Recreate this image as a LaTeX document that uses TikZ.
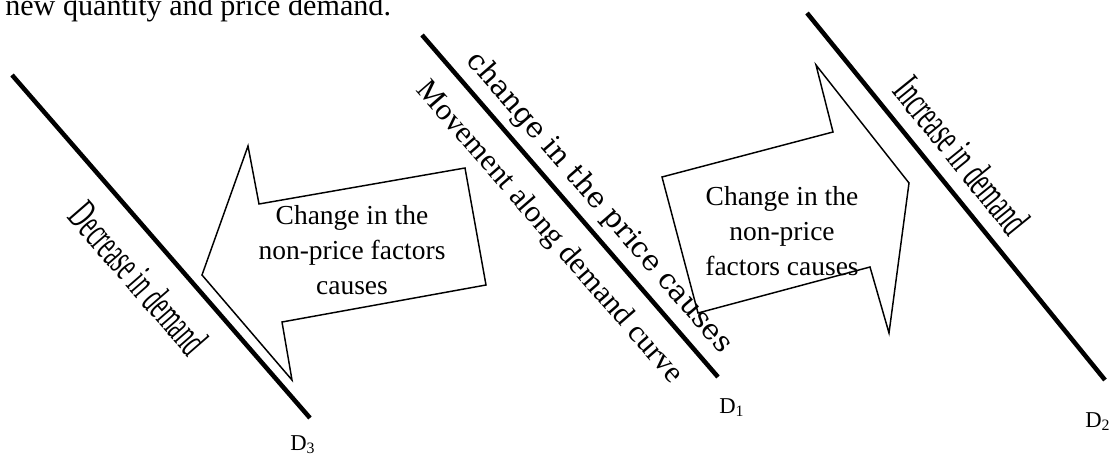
\documentclass[tikz,border=0pt]{standalone}
\usepackage{fontspec}
\setmainfont{Liberation Serif}
\newfontfamily\dvs{DejaVu Serif}
\usepackage{graphicx}
\begin{document}
\begin{tikzpicture}[x=0.75pt,y=-0.75pt,
  demandline/.style={line width=3.4pt},
  bigarrow/.style={line width=1.1pt, line join=miter},
  boxtext/.style={align=center, inner sep=0pt, font=\fontsize{20.6}{26.5}\selectfont},
  curvelabel/.style={inner sep=0pt, anchor=base west, font=\fontsize{17}{17}\selectfont},
  slanttext/.style={inner sep=0pt, font=\fontsize{23}{23}\selectfont}
]
\useasboundingbox (0,0) rectangle (1109,453);

% top text
\node[inner sep=0pt, anchor=base west, font=\fontsize{22.6}{22.6}\selectfont] (top) at (5,15.5) {new quantity and price demand.};

% demand lines
\coordinate (d3a) at (12,75);  \coordinate (d3b) at (310,418);
\coordinate (d1a) at (422,35); \coordinate (d1b) at (718,377);
\coordinate (d2a) at (807,13); \coordinate (d2b) at (1105,380);
\draw[demandline] (d3a) -- (d3b);
\draw[demandline] (d1a) -- (d1b);
\draw[demandline] (d2a) -- (d2b);

% labels D
\node[curvelabel] (D3) at (290,450) {D\textsubscript{3}};
\node[curvelabel] (D1) at (719,413) {D\textsubscript{1}};
\node[curvelabel] (D2) at (1085,427) {D\textsubscript{2}};

% left arrow
\draw[bigarrow] (202,275) -- (248,146) -- (259,204) -- (465,168) -- (486,285)
  -- (282,322) -- (292,380) -- cycle;
\node[boxtext] (lefttext) at (352,250) {Change in the\\non-price factors\\causes};

% right arrow
\draw[bigarrow] (662,177) -- (833,132) -- (816,65) -- (909,183) -- (889,333)
  -- (870,267) -- (698,313) -- cycle;
\node[boxtext] (righttext) at (782,231) {Change in the\\non-price\\factors causes};

% rotated texts
\node[inner sep=0pt, rotate=-49, font=\dvs\fontsize{21.5}{21.5}\selectfont] (price) at (599,203) {change in the price causes};
\node[slanttext, rotate=-49] (move) at (549,233) {Movement along demand curve};
\node[inner sep=0pt, rotate=-49] (dec) at (139,278) {\scalebox{0.52}[1]{\fontsize{33}{33}\selectfont Decrease in demand}};
\node[inner sep=0pt, rotate=-51] (inc) at (962,155) {\scalebox{0.55}[1]{\fontsize{33}{33}\selectfont Increase in demand}};
\end{tikzpicture}
\end{document}
